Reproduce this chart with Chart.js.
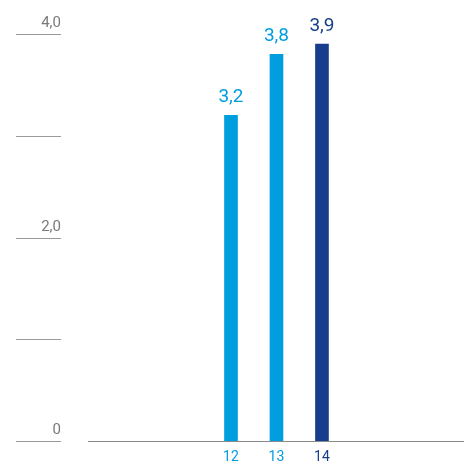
<!DOCTYPE html>
<html>
<head>
<meta charset="utf-8">
<script src="https://cdn.jsdelivr.net/npm/chart.js@4/dist/chart.umd.min.js"></script>
<style>
  html, body { margin: 0; padding: 0; background: #fff; }
  #wrap { width: 465px; height: 463px; }
</style>
</head>
<body>
<div id="wrap"><canvas id="barChart" width="465" height="463"></canvas></div>
<script>
// data
var years = [12, 13, 14];
var yearLabels = ['12', '13', '14'];
var values = [3.2, 3.8, 3.9];
var valueLabels = ['3,2', '3,8', '3,9'];
var yTicks = [0, 1, 2, 3, 4];
var yTickLabels = ['0', '', '2,0', '', '4,0'];

var light = '#009ddf';
var dark = '#163e8c';
var colors = [light, light, dark];

// y-axis lines + labels on the left, drawn off the y scale
var leftAxis = {
    id: 'leftAxis',
    afterDraw: function (chart) {
        var ctx = chart.ctx, y = chart.scales.y;
        ctx.save();
        ctx.strokeStyle = '#9a9a9a';
        ctx.lineWidth = 1;
        ctx.fillStyle = '#7a7a7a';
        ctx.font = '15px Roboto';
        ctx.textAlign = 'right';
        ctx.textBaseline = 'alphabetic';
        yTicks.forEach(function (v, i) {
            var py = Math.round(y.getPixelForValue(v)) + 0.5;
            ctx.beginPath();
            ctx.moveTo(16, py);
            ctx.lineTo(61, py);
            ctx.stroke();
            if (yTickLabels[i]) ctx.fillText(yTickLabels[i], 61, py - 8);
        });
        ctx.restore();
    }
};

// value labels above the bars
var barValues = {
    id: 'barValues',
    afterDatasetsDraw: function (chart) {
        var ctx = chart.ctx;
        var meta = chart.getDatasetMeta(0);
        ctx.save();
        ctx.font = '19px Roboto';
        ctx.textAlign = 'center';
        ctx.textBaseline = 'alphabetic';
        meta.data.forEach(function (bar, i) {
            ctx.fillStyle = colors[i];
            ctx.fillText(valueLabels[i], bar.x, bar.y - 13);
        });
        ctx.restore();
    }
};

var myBarChart = new Chart(document.getElementById('barChart'), {
    type: 'bar',
    data: {
        datasets: [{
            data: years.map(function (yr, i) { return { x: yr, y: values[i] }; }),
            backgroundColor: colors,
            borderWidth: 0,
            barThickness: 13
        }]
    },
    options: {
        responsive: false,
        animation: false,
        layout: { padding: { left: 88, right: 2, top: 34, bottom: 0 } },
        plugins: {
            legend: { display: false },
            tooltip: { enabled: false }
        },
        scales: {
            x: {
                type: 'linear',
                offset: false,
                bounds: 'data',
                min: 8.857,
                max: 17.1,
                grid: { display: false, drawTicks: false },
                border: { display: true, color: '#8a8a8a', width: 1 },
                afterBuildTicks: function (scale) {
                    scale.ticks = years.map(function (v) { return { value: v }; });
                },
                afterFit: function (scale) { scale.height = 22; },
                ticks: {
                    padding: 8,
                    autoSkip: false,
                    maxRotation: 0,
                    font: { family: 'Roboto', size: 14 },
                    color: function (c) { return colors[c.index]; },
                    callback: function (v, i) { return yearLabels[i]; }
                }
            },
            y: {
                display: false,
                min: 0,
                max: 4
            }
        }
    },
    plugins: [leftAxis, barValues]
});
</script>
</body>
</html>
